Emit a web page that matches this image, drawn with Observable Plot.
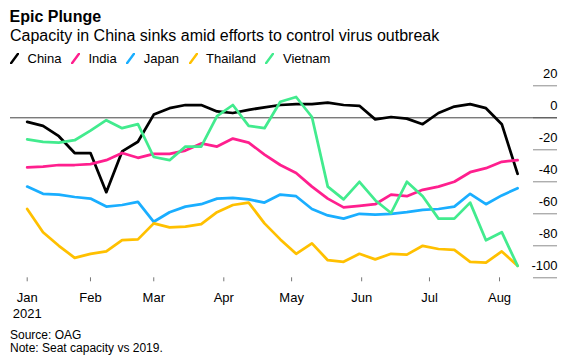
<!DOCTYPE html>
<html>
<head>
<meta charset="utf-8">
<script src="https://cdn.jsdelivr.net/npm/d3@7"></script>
<script src="https://cdn.jsdelivr.net/npm/@observablehq/plot@0.6"></script>
<style>
  html, body { margin: 0; padding: 0; background: #fff; }
  body { width: 581px; height: 364px; position: relative; overflow: hidden;
         font-family: "Liberation Sans", Arial, sans-serif; color: #000; }
  #title { position: absolute; left: 9.5px; top: 8.5px; font-size: 16px; font-weight: bold; line-height: 1; white-space: nowrap; }
  #subtitle { position: absolute; left: 10px; top: 27.5px; font-size: 16px; line-height: 1; white-space: nowrap; }
  #legend { position: absolute; left: 10px; top: 52.3px; font-size: 13px; line-height: 13px; display: flex; white-space: nowrap; }
  .item { display: flex; align-items: center; margin-right: 9.5px; }
  .item svg { display: block; margin-right: 8.5px; }
  #chart { position: absolute; left: 0; top: 62px; }
  #caption { position: absolute; left: 10px; top: 328.8px; font-size: 12px; line-height: 13.4px; white-space: nowrap; }
</style>
</head>
<body>
<div id="title">Epic Plunge</div>
<div id="subtitle">Capacity in China sinks amid efforts to control virus outbreak</div>
<div id="legend"></div>
<div id="chart"></div>
<div id="caption">Source: OAG<br>Note: Seat capacity vs 2019.</div>
<script>
// ---- data ----
const dates = [
  "2021-01-04","2021-01-11","2021-01-18","2021-01-25",
  "2021-02-01","2021-02-08","2021-02-15","2021-02-22",
  "2021-03-01","2021-03-08","2021-03-15","2021-03-22","2021-03-29",
  "2021-04-05","2021-04-12","2021-04-19","2021-04-26",
  "2021-05-03","2021-05-10","2021-05-17","2021-05-24","2021-05-31",
  "2021-06-07","2021-06-14","2021-06-21","2021-06-28",
  "2021-07-05","2021-07-12","2021-07-19","2021-07-26",
  "2021-08-02","2021-08-09"
];
const countries = ["China", "India", "Japan", "Thailand", "Vietnam"];
const colors = ["#000000", "#ff1f8e", "#1aaeff", "#ffc000", "#42eb8e"];

const china    = [-2.5, -5, -11.5, -22, -22, -46.5, -21, -15, 2, 6, 8, 8, 4, 3, 5, 6.5, 8, 8.5, 8.5, 9.5, 8, 7.5, -1, 0.5, -0.5, -4, 3, 7, 8.5, 6, -4, -35];
const india    = [-31, -30.5, -29.5, -29.5, -29, -26.5, -22, -25, -22.5, -22.5, -20.5, -16, -18, -13, -15.5, -23, -29.5, -34.5, -43, -50.5, -56, -55, -54, -48, -49, -45, -43, -40, -34, -31.5, -27.5, -26.5];
const japan    = [-43, -47.5, -48, -49.5, -50.5, -55.5, -54.5, -52.5, -65, -59, -55.5, -54, -50.5, -50, -51, -53, -48, -49, -57, -61, -63, -60, -60.5, -60, -59, -57.5, -57, -55.5, -47.5, -54, -48.5, -44];
const thailand = [-57, -71.5, -80, -87.5, -85, -83.5, -76.5, -76, -66, -68.5, -68, -66.5, -59, -54.5, -53, -66, -76, -85, -78.5, -89, -90, -85, -88.5, -85, -85.5, -80, -82, -82.5, -90, -90.5, -83.5, -92.5];
const vietnam  = [-13.5, -15, -15.5, -14, -8, -1.5, -6.5, -4, -24.5, -26.5, -18, -18, 1, 8, -5, -6.5, 10, 13, 0.5, -43, -51, -40, -51.5, -59.5, -40, -49, -63, -63, -53, -76.5, -71.5, -92.5];

const xTickDates  = ["2021-01-04","2021-02-01","2021-03-01","2021-04-01","2021-05-01","2021-06-01","2021-07-01","2021-08-01"];
const xTickLabels = ["Jan\n2021","Feb","Mar","Apr","May","Jun","Jul","Aug"];
const yTicks      = [20, 0, -20, -40, -60, -80, -100];
const yTickLabels = ["20", "0", "-20", "-40", "-60", "-80", "-100"];

// ---- build table ----
const seriesValues = [china, india, japan, thailand, vietnam];
const parse = d3.utcParse("%Y-%m-%d");
const rows = [];
countries.forEach((c, k) => {
  seriesValues[k].forEach((v, i) => rows.push({date: parse(dates[i]), value: v, country: c}));
});
const xTicks = xTickDates.map(parse);
const xLabelMap = new Map(xTicks.map((d, i) => [+d, xTickLabels[i]]));
const yLabelMap = new Map(yTicks.map((d, i) => [d, yTickLabels[i]]));

// ---- legend ----
const legend = document.getElementById("legend");
countries.forEach((c, k) => {
  const item = document.createElement("div");
  item.className = "item";
  item.innerHTML = `<svg width="9" height="11" viewBox="0 0 9 11"><line x1="1" y1="10.2" x2="8" y2="0.8" stroke="${colors[k]}" stroke-width="2.4" stroke-linecap="round"/></svg><span>${c}</span>`;
  legend.appendChild(item);
});

// ---- chart ----
const W = 581, H = 270, mL = 10, mR = 24, mT = 23.3, mB = 54.7;
const tickLen = 24;
const chart = Plot.plot({
  width: W,
  height: H,
  marginLeft: mL,
  marginRight: mR,
  marginTop: mT,
  marginBottom: mB,
  style: {fontFamily: "'Liberation Sans', Arial, sans-serif", fontSize: "13px", color: "#000", background: "transparent"},
  x: {type: "utc", domain: [parse(dates[0]), parse(dates[dates.length - 1])], range: [26.7, 517.1]},
  y: {domain: [-100, 20]},
  color: {domain: countries, range: colors},
  marks: [
    Plot.ruleY(yTicks, {y: d => d, stroke: "#8c8c8c", strokeWidth: 1, insetLeft: W - mL - mR - tickLen}),
    Plot.ruleY([0], {stroke: "#444", strokeWidth: 1}),
    Plot.axisY({anchor: "right", ticks: yTicks, tickSize: 0, tickPadding: 0, textAnchor: "end", dy: -12, label: null, tickFormat: d => yLabelMap.get(d)}),
    Plot.axisX({ticks: xTicks, tickSize: 4, tickPadding: 9, stroke: "#777", lineHeight: 1.24, label: null, tickFormat: d => xLabelMap.get(+d)}),
    Plot.line(rows, {x: "date", y: "value", z: "country", stroke: "country", strokeWidth: 2.75, strokeLinejoin: "round", strokeLinecap: "round"})
  ]
});
document.getElementById("chart").appendChild(chart);
</script>
</body>
</html>
